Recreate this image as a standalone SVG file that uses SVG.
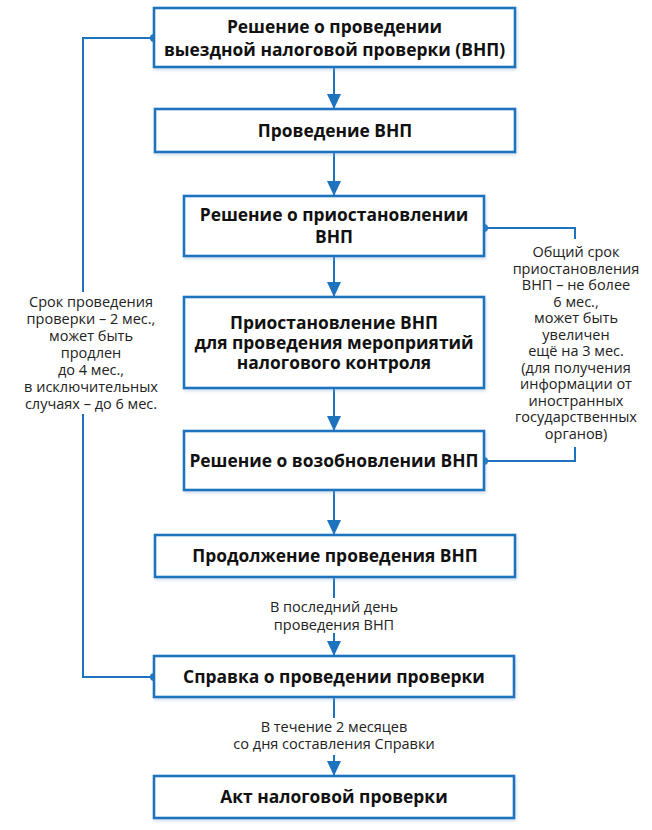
<svg xmlns="http://www.w3.org/2000/svg" width="652" height="830" viewBox="0 0 652 830">
  <defs>
    <style>
      .box { fill: #ffffff; stroke: #1e73be; stroke-width: 2.6; filter: url(#sh); }
      .t { font-family: "Open Sans", "Noto Sans", sans-serif; font-weight: bold; font-size: 17.4px; fill: #111111; text-anchor: middle; }
      .n { font-family: "Open Sans", "Noto Sans", sans-serif; font-size: 14.5px; fill: #222222; text-anchor: middle; }
      .c { fill: none; stroke: #1e73be; stroke-width: 2; }
      .dot { fill: #1e73be; }
    </style>
    <filter id="sh" x="-5%" y="-10%" width="110%" height="130%">
      <feDropShadow dx="1" dy="2" stdDeviation="1.5" flood-color="#7fa9d0" flood-opacity="0.35"/>
    </filter>
  </defs>
  <rect width="652" height="830" fill="#ffffff"/>

  <g id="connectors">
    <path class="c" d="M334,67 V109"/>
    <path d="M327,94 L341,94 L334,109 Z" class="dot"/>
    <path class="c" d="M334,152 V196"/>
    <path d="M327,181 L341,181 L334,196 Z" class="dot"/>
    <path class="c" d="M334,256 V297"/>
    <path d="M327,282 L341,282 L334,297 Z" class="dot"/>
    <path class="c" d="M334,388 V431"/>
    <path d="M327,416 L341,416 L334,431 Z" class="dot"/>
    <path class="c" d="M334,490 V535"/>
    <path d="M327,520 L341,520 L334,535 Z" class="dot"/>
    <path class="c" d="M334,577 V598"/>
    <path class="c" d="M334,633 V656"/>
    <path d="M327,641 L341,641 L334,656 Z" class="dot"/>
    <path class="c" d="M334,697 V718"/>
    <path class="c" d="M334,755 V776"/>
    <path d="M327,761 L341,761 L334,776 Z" class="dot"/>
    <path class="c" d="M154,38 H83 V292"/>
    <path class="c" d="M83,414 V677 H154"/>
    <circle class="dot" cx="154" cy="38" r="4"/>
    <circle class="dot" cx="154" cy="677" r="4"/>
    <path class="c" d="M484,228 H575 V239"/>
    <path class="c" d="M575,447 V461 H484"/>
    <circle class="dot" cx="484" cy="228" r="4"/>
    <circle class="dot" cx="484" cy="461" r="4"/>
  </g>

  <g id="n1">
    <rect class="box" x="154" y="8" width="361" height="59"/>
    <text class="t" x="334.5" y="33">Решение о проведении</text>
    <text class="t" x="334.5" y="56">выездной налоговой проверки (ВНП)</text>
  </g>
  <g id="n2">
    <rect class="box" x="155" y="109" width="360" height="43"/>
    <text class="t" x="335" y="137">Проведение ВНП</text>
  </g>
  <g id="n3">
    <rect class="box" x="184" y="196" width="300" height="60"/>
    <text class="t" x="334" y="221">Решение о приостановлении</text>
    <text class="t" x="334" y="243">ВНП</text>
  </g>
  <g id="n4">
    <rect class="box" x="184" y="297" width="300" height="91"/>
    <text class="t" x="334" y="329">Приостановление ВНП</text>
    <text class="t" x="334" y="349">для проведения мероприятий</text>
    <text class="t" x="334" y="369">налогового контроля</text>
  </g>
  <g id="n5">
    <rect class="box" x="184" y="431" width="300" height="59"/>
    <text class="t" x="334" y="467">Решение о возобновлении ВНП</text>
  </g>
  <g id="n6">
    <rect class="box" x="155" y="535" width="360" height="42"/>
    <text class="t" x="335" y="562">Продолжение проведения ВНП</text>
  </g>
  <g id="n7">
    <rect class="box" x="154" y="656" width="360" height="41"/>
    <text class="t" x="334" y="683">Справка о проведении проверки</text>
  </g>
  <g id="n8">
    <rect class="box" x="154" y="776" width="360" height="42"/>
    <text class="t" x="334" y="803">Акт налоговой проверки</text>
  </g>

  <g id="label-left">
    <text class="n" x="91" y="307">Срок проведения</text>
    <text class="n" x="91" y="324">проверки – 2 мес.,</text>
    <text class="n" x="91" y="341">может быть</text>
    <text class="n" x="91" y="358">продлен</text>
    <text class="n" x="91" y="375">до 4 мес.,</text>
    <text class="n" x="91" y="392">в исключительных</text>
    <text class="n" x="91" y="409">случаях – до 6 мес.</text>
  </g>
  <g id="label-right">
    <text class="n" x="576" y="257">Общий срок</text>
    <text class="n" x="576" y="273.5">приостановления</text>
    <text class="n" x="576" y="290">ВНП – не более</text>
    <text class="n" x="576" y="306.5">6 мес.,</text>
    <text class="n" x="576" y="323">может быть</text>
    <text class="n" x="576" y="339.5">увеличен</text>
    <text class="n" x="576" y="356">ещё на 3 мес.</text>
    <text class="n" x="576" y="372.5">(для получения</text>
    <text class="n" x="576" y="389">информации от</text>
    <text class="n" x="576" y="405.5">иностранных</text>
    <text class="n" x="576" y="422">государственных</text>
    <text class="n" x="576" y="438.5">органов)</text>
  </g>
  <g id="label-mid">
    <text class="n" x="334" y="612">В последний день</text>
    <text class="n" x="334" y="630">проведения ВНП</text>
    <text class="n" x="334" y="732">В течение 2 месяцев</text>
    <text class="n" x="334" y="749">со дня составления Справки</text>
  </g>
</svg>
